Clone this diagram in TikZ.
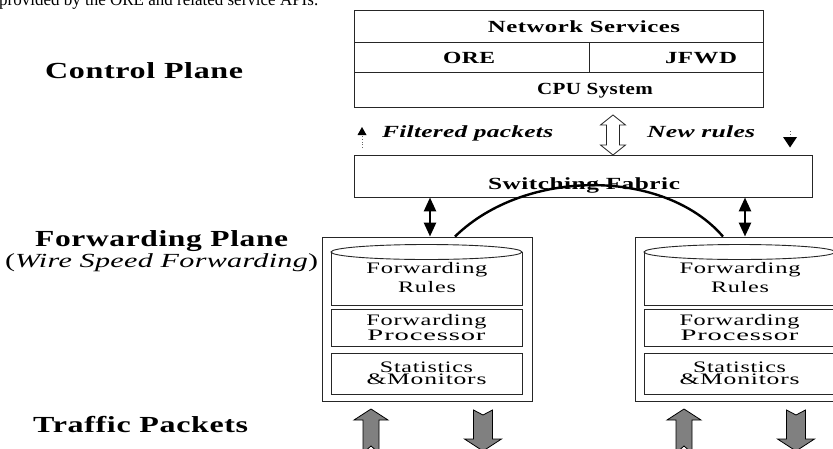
\documentclass[tikz,border=0pt]{standalone}
\usepackage{fontspec}
\setmainfont{Liberation Serif}
\usepackage{graphicx}
\usetikzlibrary{arrows.meta,calc}
\newcommand\fitw[2]{\resizebox{#1pt}{\height}{#2}}
\tikzset{
  frame/.style={draw=black!85, line width=0.9pt, fill=white, inner sep=0pt},
  lbl/.style={inner sep=0pt, anchor=base west},
  clbl/.style={inner sep=0pt, anchor=base},
  fbig/.style={font=\fontsize{23}{23}\selectfont\bfseries\addfontfeature{LetterSpace=2}},
  fmid/.style={font=\fontsize{17}{17}\selectfont\bfseries\addfontfeature{LetterSpace=2}},
  fital/.style={font=\fontsize{17}{17}\selectfont\bfseries\itshape\addfontfeature{LetterSpace=1}},
  finner/.style={font=\fontsize{16}{13}\selectfont\addfontfeature{LetterSpace=3}, align=center},
  dblarrow/.style={line width=2.6pt, {Triangle[length=14pt,width=12pt]}-{Triangle[length=14pt,width=12pt]}},
  greyarrow/.style={fill=black!50, draw=black, line width=0.8pt},
  hollowarrow/.style={fill=white, draw=black!85, line width=0.8pt},
}
\begin{document}
\begin{tikzpicture}[x=1pt,y=-1pt]
\useasboundingbox (0,0) rectangle (833,448);
\clip (0,0) rectangle (833,448);

% cut-off caption line at the top
\node[lbl, font=\fontsize{18}{18}\selectfont] (caption) at (-1,5.5) {\fitw{319}{provided by the ORE and related service APIs.}};

% left titles
\node[lbl, fbig] (cplane) at (45,78) {\fitw{198}{Control Plane}};
\node[lbl, fbig] (fplane) at (35,246) {\fitw{253}{Forwarding Plane}};
\node[lbl, font=\fontsize{20}{20}\selectfont\addfontfeature{LetterSpace=1}] (wsf) at (5,267) {\fitw{313}{(\textit{Wire Speed Forwarding})}};
\node[lbl, fbig] (tpackets) at (33,432) {\fitw{215}{Traffic Packets}};

% control plane stack
\node[frame, minimum width=409pt, minimum height=32pt] (ns) at (558.5,26) {};
\node[frame, minimum width=235pt, minimum height=30pt] (ore) at (471.5,57) {};
\node[frame, minimum width=174pt, minimum height=30pt] (jfwd) at (676,57) {};
\node[frame, minimum width=409pt, minimum height=35pt] (cpu) at (558.5,89.5) {};
\node[clbl, fmid] (nslbl) at (584,32) {\fitw{192}{Network Services}};
\node[clbl, fmid] (orelbl) at (469,63) {\fitw{52}{ORE}};
\node[clbl, fmid] (jfwdlbl) at (701,63) {\fitw{72}{JFWD}};
\node[clbl, fmid] (cpulbl) at (595,94) {\fitw{116}{CPU System}};

% filtered packets / new rules
\node[lbl, fital] (filt) at (382,137) {\fitw{171}{Filtered packets}};
\node[lbl, fital] (newr) at (647,137) {\fitw{108}{New rules}};
\draw[black!60, line width=0.8pt, dotted] (362,148) -- (362,133);
\fill (362,127) -- (366.5,135) -- (357.5,135) -- cycle;
\draw[black!60, line width=0.8pt, dotted] (790,131) -- (790,138);
\fill (790,147.5) -- (797,137) -- (783,137) -- cycle;

% switching fabric
\node[frame, minimum width=458pt, minimum height=42pt] (sf) at (583,176) {};
\node[clbl, fmid] (sflbl) at (584,189) {\fitw{192}{Switching Fabric}};

% hollow double arrow between CPU system and switching fabric
\draw[hollowarrow] (613,115) -- (625.5,125) -- (619.5,125) -- (619.5,145) -- (625.5,145)
  -- (613,155) -- (600.5,145) -- (606.5,145) -- (606.5,125) -- (600.5,125) -- cycle;

% forwarding plane boxes
\foreach \s/\p in {0/L,313/R}{
  \begin{scope}[xshift=\s pt]
    \node[frame, minimum width=210pt, minimum height=164pt] (box\p) at (427,319) {};
    \draw[frame] (331,252) -- (331,305) -- (522,305) -- (522,252);
    \draw[frame] (426.5,252) ellipse [x radius=95.5pt, y radius=7.5pt];
    \node[finner, inner sep=0pt] (rules\p) at (427,277.5) {\fitw{121}{Forwarding}\\[3pt]\fitw{58}{Rules}};
    \node[frame, finner, minimum width=191pt, minimum height=37pt] (proc\p) at (426.5,327.5)
      {\fitw{120}{Forwarding}\\\fitw{118}{Processor}};
    \node[frame, finner, minimum width=191pt, minimum height=41pt, font=\fontsize{16}{12}\selectfont\addfontfeature{LetterSpace=3}] (stat\p) at (426.5,373.5)
      {\fitw{93}{Statistics}\\\fitw{120}{\&Monitors}};
    % traffic arrows
    \draw[greyarrow] (371,409) -- (388,420) -- (379,420) -- (379,453) -- (371,446) -- (363,453)
      -- (363,420) -- (354,420) -- cycle;
    \draw[greyarrow] (473.5,410) -- (483,415) -- (492.5,410) -- (492.5,439) -- (501.5,439)
      -- (483,451) -- (464.5,439) -- (473.5,439) -- cycle;
  \end{scope}
}

% connectors switching fabric <-> forwarding boxes
\draw[dblarrow] ([xshift=3pt]boxL.north |- sf.south) -- ([xshift=3pt]boxL.north);
\draw[dblarrow] ([xshift=5pt]boxR.north |- sf.south) -- ([xshift=5pt]boxR.north);
\draw[line width=2.4pt] ([xshift=28pt]boxL.north) .. controls (525,168) and (664,168) .. ([xshift=-17pt]boxR.north);
\end{tikzpicture}
\end{document}
